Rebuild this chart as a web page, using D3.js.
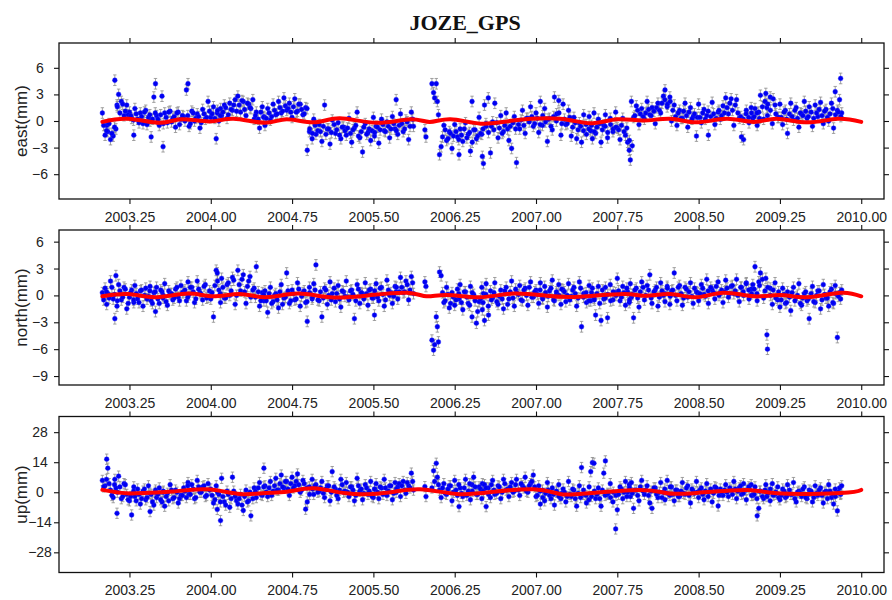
<!DOCTYPE html>
<html><head><meta charset="utf-8">
<script src="https://cdn.jsdelivr.net/npm/d3@7/dist/d3.min.js"></script>
<style>body{margin:0;background:#fff}svg{display:block}</style>
</head><body>
<svg id="c" width="892" height="600"></svg>
<script>
const chartTitle = "JOZE_GPS";
const xTicks = [2003.25, 2004.00, 2004.75, 2005.50, 2006.25, 2007.00, 2007.75, 2008.50, 2009.25, 2010.00];
const eastTicks = [-6, -3, 0, 3, 6];
const northTicks = [-9, -6, -3, 0, 3, 6];
const upTicks = [-28, -14, 0, 14, 28];
const eastSigma = 0.6, northSigma = 0.6, upSigma = 2.4;

// observation set A (epochs in decimal years; east/north/up in mm)
const epochs = [
2003.000,2003.025,2003.040,2003.050,2003.075,2003.100,2003.115,2003.125,2003.135,2003.150,2003.175,2003.200,2003.225,
2003.250,2003.270,2003.290,2003.300,2003.325,2003.350,2003.375,2003.400,2003.425,2003.440,2003.450,2003.475,2003.490,
2003.500,2003.525,2003.550,2003.560,2003.575,2003.600,2003.625,2003.650,2003.675,2003.700,2003.725,
2003.750,2003.775,2003.790,2003.800,2003.825,2003.850,2003.875,2003.900,2003.925,2003.950,2003.975,
2004.000,2004.025,2004.050,2004.060,2004.075,2004.090,2004.100,2004.125,2004.150,2004.175,2004.200,2004.225,
2004.250,2004.275,2004.300,2004.325,2004.350,2004.370,2004.400,2004.420,2004.450,2004.475,2004.490,
2004.500,2004.525,2004.550,2004.575,2004.600,2004.625,2004.650,2004.675,2004.700,2004.725,
2004.750,2004.775,2004.800,2004.825,2004.850,2004.875,2004.890,2004.910,2004.935,2004.950,2004.970,
2005.000,2005.025,2005.050,2005.075,2005.100,2005.120,2005.150,2005.175,2005.200,2005.225,
2005.250,2005.275,2005.300,2005.325,2005.350,2005.375,2005.400,2005.425,2005.450,2005.475,
2005.500,2005.510,2005.525,2005.550,2005.575,2005.600,2005.625,2005.650,2005.675,2005.700,2005.710,2005.725,
2005.750,2005.775,2005.800,2005.825,2005.850,2005.870,2005.975,2005.985,2006.040,2006.055,2006.065,2006.080,2006.090,2006.100,2006.110,
2006.125,2006.150,2006.175,2006.200,2006.225,
2006.250,2006.275,2006.290,2006.300,2006.325,2006.350,2006.375,2006.395,2006.410,2006.425,2006.450,2006.475,
2006.500,2006.505,2006.515,2006.525,2006.540,2006.560,2006.580,2006.600,2006.620,2006.650,2006.675,2006.700,2006.725,
2006.750,2006.775,2006.800,2006.820,2006.850,2006.875,2006.900,2006.925,2006.950,2006.975,
2007.000,2007.025,2007.040,2007.060,2007.080,2007.105,2007.125,2007.150,2007.170,2007.190,2007.210,2007.230,
2007.250,2007.275,2007.300,2007.325,2007.350,2007.375,2007.400,2007.420,2007.440,2007.465,2007.490,
2007.505,2007.520,2007.535,2007.550,2007.575,2007.600,2007.625,2007.640,2007.660,2007.685,2007.710,2007.735,
2007.750,2007.775,2007.800,2007.825,2007.845,2007.860,2007.870,2007.880,2007.900,2007.925,2007.950,2007.975,
2008.000,2008.025,2008.050,2008.070,2008.100,2008.125,2008.150,2008.175,2008.190,2008.210,2008.235,
2008.250,2008.275,2008.300,2008.325,2008.350,2008.375,2008.400,2008.425,2008.450,2008.480,
2008.500,2008.525,2008.550,2008.575,2008.590,2008.625,2008.650,2008.680,2008.700,2008.725,
2008.750,2008.775,2008.800,2008.825,2008.850,2008.875,2008.895,2008.915,2008.940,2008.965,2008.985,
2009.000,2009.020,2009.040,2009.055,2009.070,2009.100,2009.120,2009.130,2009.135,2009.160,2009.180,2009.205,2009.230,
2009.250,2009.275,2009.300,2009.320,2009.350,2009.375,2009.400,2009.425,2009.450,2009.475,
2009.500,2009.520,2009.550,2009.575,2009.600,2009.625,2009.650,2009.675,2009.700,2009.725,2009.745,2009.760,2009.780,2009.800,2009.810,2009.820
];

const east = [
0.9,-1.6,-0.5,-1.2,-2.1,-1.7,4.6,-0.9,1.8,3.0,2.2,0.6,1.8,
1.0,0.3,-1.6,1.4,0.2,0.9,-0.3,1.2,0.4,0.0,-1.8,2.7,4.2,
0.6,-0.5,2.8,-2.9,0.9,-0.2,1.1,0.3,-0.7,1.0,0.2,
0.5,3.5,4.2,-0.6,1.1,0.0,0.8,-0.8,1.3,0.2,2.2,
0.4,1.6,-2.0,0.9,0.0,1.4,0.6,1.8,0.3,2.0,1.2,2.4,
2.8,1.0,2.2,0.6,1.9,1.4,0.2,1.0,-0.8,1.6,0.5,
-0.5,1.4,0.1,1.9,0.7,2.2,0.9,2.6,1.2,2.0,
0.4,2.5,1.1,1.9,0.7,1.5,-3.3,-1.2,-2.0,0.2,-1.5,
-0.4,-2.3,1.8,-0.9,-2.6,0.1,-1.4,-0.2,-2.0,-0.7,
-1.6,0.3,-2.4,-0.8,1.0,-1.9,-3.5,-0.3,-1.3,-2.2,
0.4,-1.7,-0.6,-2.5,0.2,-1.1,-0.1,-1.9,0.5,-0.9,2.4,-1.5,
0.8,-1.2,0.1,-2.1,1.0,-0.6,-1.0,-1.8,4.2,3.2,2.6,4.2,2.2,0.7,-3.8,
-2.9,-0.5,-2.2,-1.2,-3.1,
-0.4,-1.8,-3.8,-0.9,-2.3,-0.2,-1.5,-3.4,2.2,-1.0,-2.0,0.4,
-1.5,-4.0,-4.8,1.8,-0.6,2.6,-3.6,-0.1,2.0,-1.9,0.6,-1.2,0.9,
-2.2,-3.1,0.5,-4.7,-0.9,1.2,-1.4,0.3,1.6,-0.6,
0.9,-1.3,2.2,-0.5,1.4,-2.3,0.3,-1.0,2.7,0.8,2.3,-1.6,
1.9,-0.4,1.2,-1.7,0.4,-2.0,-0.2,-2.4,0.7,-1.5,0.5,
-1.1,-2.0,0.9,-1.4,0.2,-2.4,-0.5,0.7,-1.9,0.3,-1.2,1.0,
-0.8,-2.1,0.3,-1.6,-2.4,-3.3,-4.4,2.2,0.4,1.7,-0.4,1.4,
0.2,2.2,0.7,1.5,-0.3,2.0,0.9,2.8,3.5,1.6,2.7,
0.0,1.8,-0.5,1.2,0.3,2.0,-0.7,1.5,0.5,-1.7,
1.9,-0.2,1.3,0.6,-1.6,2.1,-0.4,1.0,0.2,1.7,
2.6,0.8,2.5,-0.5,2.4,0.3,-1.8,-2.1,1.2,-0.2,1.5,
0.3,1.4,-0.5,1.0,2.9,0.2,3.1,1.5,0.6,2.7,-0.3,1.8,0.4,
1.9,-0.4,1.2,-1.4,2.0,0.1,1.5,-0.7,0.8,2.2,
0.3,1.6,-0.6,1.8,0.5,2.1,-0.3,1.3,0.0,2.0,-0.8,3.3,1.2,2.4,4.8,0.9
];

const north = [
0.3,0.8,-1.0,0.2,1.6,-0.4,-2.6,2.2,-1.2,1.2,-0.5,0.9,-1.5,
-0.2,0.6,-0.8,1.1,-0.4,0.5,-1.2,0.8,-0.1,1.0,-0.6,0.3,-1.8,
0.9,-0.9,0.4,-0.3,1.3,-1.1,0.2,-0.5,0.7,-0.2,1.1,
0.4,-0.6,1.5,0.1,0.9,-0.8,1.6,0.3,-0.5,1.2,-0.2,
-0.4,-2.4,2.8,2.5,0.6,-0.8,1.9,-0.3,1.2,0.0,2.0,-1.0,
2.8,0.5,2.3,-0.9,1.6,-0.2,0.8,3.2,-1.2,0.3,-0.6,
0.5,-1.9,0.9,-0.7,0.2,-1.4,1.2,-0.3,2.5,-0.9,
0.6,-0.5,1.4,-1.2,0.3,-0.8,-2.9,0.9,-0.4,1.3,3.4,
-0.6,-2.4,0.8,-1.0,1.5,0.2,-0.7,1.1,-1.3,0.4,
1.6,-0.5,0.6,-2.6,1.2,-0.9,0.2,1.4,-1.1,0.7,
-0.3,-2.2,1.3,-0.6,0.9,-1.2,1.7,0.0,-0.9,1.0,0.4,-0.4,
2.0,0.3,1.6,-0.5,2.1,0.2,1.5,1.0,-5.0,-6.1,-5.5,-2.4,-3.5,-5.2,2.6,
2.2,-0.8,0.9,-1.4,0.3,
-1.1,0.7,-0.4,1.2,-1.6,0.4,-0.9,1.0,-2.4,0.1,-3.1,-0.7,
0.9,-1.6,0.2,-2.8,1.3,-1.2,0.5,-0.3,1.4,-1.0,0.6,-1.5,0.9,
-0.4,1.6,-1.2,0.3,1.1,-0.6,0.8,-1.1,1.5,-0.2,
0.6,-0.9,1.4,-0.3,1.0,-1.3,0.5,1.7,-0.6,0.2,1.2,-1.0,
0.6,-0.7,1.3,-0.1,0.9,-1.2,1.5,-3.5,0.2,-0.8,1.1,
-0.6,0.8,-0.3,-2.2,1.0,-2.8,-0.4,0.9,-2.5,1.2,-0.5,0.3,
1.9,-0.6,1.0,-1.1,0.4,-0.8,1.3,-0.2,-2.5,0.8,-1.3,1.5,
-0.5,1.1,2.3,-0.9,0.6,-1.2,1.4,0.0,-0.7,1.0,-1.0,
0.5,2.5,-0.6,1.1,-1.1,0.9,-0.2,1.4,-0.9,0.4,
-0.6,1.2,0.1,1.8,-0.9,0.6,-0.4,1.5,0.3,-0.8,
1.7,-0.2,1.0,0.2,1.8,-0.7,0.9,0.0,1.4,-0.4,0.7,
1.2,3.2,-0.6,1.5,2.5,-0.3,1.9,-4.4,-6.0,0.8,-1.0,1.4,-0.5,
-1.3,0.8,-0.9,0.4,-1.7,0.9,-0.2,1.3,-1.1,0.2,
-0.6,-2.6,1.0,-0.8,0.5,-1.5,1.2,-0.3,-1.2,0.7,-0.9,1.1,-4.7,0.3,-0.4,0.6
];

const up = [
5.5,3.0,15.4,11.2,1.0,-2.5,6.0,2.0,-9.8,7.5,-3.0,4.0,-1.0,
-4.0,-10.6,2.5,-2.0,1.5,-5.5,0.5,-3.5,3.0,-9.0,-1.0,-6.0,1.0,
-2.5,2.0,-4.5,0.0,-6.5,-0.5,3.5,-3.0,1.0,-5.0,-1.5,
2.0,-2.5,4.5,-1.0,3.5,-3.0,5.5,0.0,2.5,-2.0,4.0,
1.5,-5.0,3.0,-8.0,-1.0,-13.2,6.5,-4.5,0.5,-7.0,7.0,-2.0,
-5.5,-1.0,-8.5,1.0,-4.0,-11.0,2.0,-2.5,4.5,-1.5,11.2,
3.0,-2.0,5.0,0.5,6.5,1.0,8.0,2.0,5.0,-1.5,
7.0,3.0,8.5,0.0,5.5,-7.9,-4.5,2.5,6.0,-1.0,3.5,
0.5,5.0,-2.5,3.0,-4.0,9.6,1.5,-3.0,6.0,0.0,
4.5,-2.0,2.5,-4.0,6.5,0.5,-3.5,3.5,-1.0,5.0,
-2.5,1.5,4.0,-3.0,2.0,6.0,-1.5,3.0,-3.5,4.5,0.0,2.5,
-2.0,5.0,-0.5,3.0,8.9,1.0,2.6,-2.0,2.0,10.0,5.0,13.5,7.0,3.5,1.0,
-2.5,4.0,-1.0,3.0,-4.0,
5.5,-1.5,-6.7,2.0,-2.0,6.0,0.5,-3.5,3.5,7.0,-1.0,2.5,
-3.0,4.0,0.0,3.5,-6.7,2.0,-2.5,5.5,-1.0,3.0,-3.0,6.0,1.0,
-2.0,4.5,0.5,6.0,-1.5,3.0,7.0,0.0,4.0,8.0,
-2.0,3.0,-5.5,1.0,-4.0,4.5,-1.5,2.0,-6.0,0.0,3.5,-3.0,
1.5,-4.5,5.0,-2.0,1.0,-6.5,3.0,11.5,-1.0,-5.0,2.5,
9.6,13.8,13.5,-3.0,2.0,-6.5,8.9,14.6,-1.0,4.0,-4.5,-17.1,
-8.2,2.5,-3.0,5.0,0.0,3.5,-2.0,4.5,-7.5,1.0,-4.0,5.5,
-1.0,3.0,-5.0,-7.5,2.0,-2.5,4.5,0.0,-3.5,5.5,-1.5,
2.5,-4.0,1.0,-2.0,4.5,-1.0,3.0,-5.0,0.5,5.0,
-2.5,2.0,-3.5,4.0,0.0,-4.5,2.5,-6.4,1.5,-1.5,
3.5,-2.0,1.0,5.0,-3.0,2.0,-1.0,4.0,-3.5,1.5,3.5,
-1.5,2.5,-11.0,-7.5,0.5,-3.0,3.5,-2.0,0.0,-4.0,4.0,-1.0,2.5,
-3.5,1.5,-2.5,3.5,-1.0,4.5,-4.5,0.5,-2.0,2.5,
-3.0,1.0,-4.5,3.0,-1.5,2.0,-5.0,0.5,3.5,-2.5,-5.5,1.5,-8.7,2.0,-1.0,3.0
];

// observation set B (epochs between those of set A)
const epochsB = [
2003.012,2003.038,2003.062,2003.088,2003.112,2003.138,2003.162,2003.188,2003.212,2003.238,
2003.262,2003.288,2003.312,2003.338,2003.362,2003.388,2003.412,2003.438,2003.462,2003.488,
2003.512,2003.538,2003.562,2003.588,2003.612,2003.638,2003.662,2003.688,2003.712,2003.738,
2003.762,2003.788,2003.812,2003.838,2003.862,2003.888,2003.912,2003.938,2003.962,2003.988,
2004.012,2004.038,2004.062,2004.088,2004.112,2004.138,2004.162,2004.188,2004.212,2004.238,
2004.262,2004.288,2004.312,2004.338,2004.362,2004.388,2004.412,2004.438,2004.462,2004.488,
2004.512,2004.538,2004.562,2004.588,2004.612,2004.638,2004.662,2004.688,2004.712,2004.738,
2004.762,2004.788,2004.812,2004.838,2004.862,2004.888,2004.912,2004.938,2004.962,2004.988,
2005.012,2005.038,2005.062,2005.088,2005.112,2005.138,2005.162,2005.188,2005.212,2005.238,
2005.262,2005.288,2005.312,2005.338,2005.362,2005.388,2005.412,2005.438,2005.462,2005.488,
2005.512,2005.538,2005.562,2005.588,2005.612,2005.638,2005.662,2005.688,2005.712,2005.738,
2005.762,2005.788,2005.812,2005.838,2005.862,
2006.138,2006.162,2006.188,2006.212,2006.238,
2006.262,2006.288,2006.312,2006.338,2006.362,2006.388,2006.412,2006.438,2006.462,2006.488,
2006.512,2006.538,2006.562,2006.588,2006.612,2006.638,2006.662,2006.688,2006.712,2006.738,
2006.762,2006.788,2006.812,2006.838,2006.862,2006.888,2006.912,2006.938,2006.962,2006.988,
2007.012,2007.038,2007.062,2007.088,2007.112,2007.138,2007.162,2007.188,2007.212,2007.238,
2007.262,2007.288,2007.312,2007.338,2007.362,2007.388,2007.412,2007.438,2007.462,2007.488,
2007.512,2007.538,2007.562,2007.588,2007.612,2007.638,2007.662,2007.688,2007.712,2007.738,
2007.762,2007.788,2007.812,2007.838,2007.862,2007.888,2007.912,2007.938,2007.962,2007.988,
2008.012,2008.038,2008.062,2008.088,2008.112,2008.138,2008.162,2008.188,2008.212,2008.238,
2008.262,2008.288,2008.312,2008.338,2008.362,2008.388,2008.412,2008.438,2008.462,2008.488,
2008.512,2008.538,2008.562,2008.588,2008.612,2008.638,2008.662,2008.688,2008.712,2008.738,
2008.762,2008.788,2008.812,2008.838,2008.862,2008.888,2008.912,2008.938,2008.962,2008.988,
2009.012,2009.038,2009.062,2009.088,2009.112,2009.138,2009.162,2009.188,2009.212,2009.238,
2009.262,2009.288,2009.312,2009.338,2009.362,2009.388,2009.412,2009.438,2009.462,2009.488,
2009.512,2009.538,2009.562,2009.588,2009.612,2009.638,2009.662,2009.688,2009.712,2009.738,2009.762,2009.788,2009.812
];
const eastB = [
-0.5,-1.1,-0.3,-1.4,-0.7,1.6,0.9,1.9,1.1,0.7,
0.6,0.1,0.8,-0.2,0.5,1.0,-0.4,0.7,0.2,0.9,
0.2,0.7,-0.3,0.4,1.0,-0.1,0.5,0.9,-0.4,0.6,
0.0,0.6,-0.3,0.9,0.3,0.5,-0.2,0.8,0.4,1.1,
0.8,0.3,1.2,0.6,1.0,1.5,0.7,1.3,1.8,1.1,
1.8,2.3,1.3,2.0,1.5,2.4,0.6,0.2,1.0,0.4,
0.3,0.9,0.5,1.2,0.8,1.5,1.1,1.7,1.4,1.0,
1.6,1.0,1.9,1.3,0.8,1.4,-0.9,-1.4,-0.5,-1.1,
-1.2,-0.6,-1.5,-0.9,-1.3,-0.4,-1.0,-1.6,-0.7,-1.1,
-0.8,-1.4,-1.0,-0.5,-1.7,-1.2,-0.7,-1.5,-0.9,-1.1,
-1.3,-0.7,-1.0,-0.4,-1.2,-0.6,-0.9,-0.3,-1.1,-0.5,
-0.3,-0.9,-0.1,-0.6,0.2,
-1.8,-1.0,-2.0,-1.4,-1.7,
-1.2,-2.1,-1.6,-0.9,-1.9,-1.3,-2.4,-1.0,-1.7,-1.4,
-0.9,-0.3,-1.3,-0.6,-1.0,-0.2,-0.8,-1.4,-0.5,-0.9,
-0.6,-0.2,-0.9,-0.4,0.1,-0.5,0.3,-0.1,0.5,-0.3,
0.3,-0.4,0.6,-0.1,0.2,-0.6,0.5,0.0,0.9,-0.3,
0.2,-0.3,0.4,-0.7,-0.2,-1.0,-0.6,-1.1,-0.4,-0.9,
-0.5,-1.2,-0.7,-0.3,-1.0,-0.6,-1.3,-0.4,-0.9,-0.7,
-1.0,-0.5,-1.2,-0.8,-2.2,-2.8,0.6,1.2,0.8,0.5,
0.9,1.3,0.6,1.1,1.5,1.2,2.0,2.4,1.9,2.2,
1.2,0.5,0.9,0.3,1.1,0.6,1.0,0.2,0.8,0.4,
0.4,0.9,0.2,1.1,0.5,0.8,0.3,1.2,0.6,0.9,
1.5,2.0,1.2,1.8,0.9,0.5,0.2,0.8,0.4,0.9,
0.5,0.9,0.3,1.6,2.2,1.9,1.2,2.5,0.8,0.4,
0.4,1.0,0.2,0.8,0.5,1.2,0.3,0.9,0.6,1.1,
0.5,1.0,0.3,0.9,1.3,0.6,1.1,0.4,0.8,1.4,0.7,1.0,0.5
];
const northB = [
-0.5,0.4,-0.3,0.9,0.1,-0.6,0.5,-0.2,0.7,-0.9,
0.3,-0.5,0.2,-0.8,0.6,0.0,-0.4,0.5,-0.9,0.4,
-0.4,0.6,0.0,-0.7,0.5,0.2,-0.3,0.9,-0.6,0.3,
0.6,-0.2,0.9,0.4,-0.4,0.7,0.1,1.0,-0.3,0.5,
0.3,1.1,1.6,0.2,0.9,-0.3,1.4,0.5,1.7,0.0,
1.2,1.8,0.4,1.0,2.1,0.6,-0.2,0.4,-0.6,0.1,
-0.6,0.2,-0.9,0.0,-0.5,0.4,-1.0,-0.2,0.5,-0.6,
0.2,-0.4,0.7,-0.1,0.5,-0.7,0.3,-0.2,0.6,-0.5,
0.4,-0.3,0.6,0.0,-0.5,0.8,0.2,-0.4,0.5,-0.1,
-0.2,0.5,0.1,-0.6,0.7,0.3,-0.4,0.2,0.6,-0.3,
0.5,-0.2,0.8,0.1,-0.5,0.6,0.3,-0.1,0.9,0.4,
0.9,0.4,1.2,0.6,1.4,
0.3,-0.6,0.1,-0.9,-0.2,
-0.5,0.2,-0.8,0.4,-0.2,-1.1,0.3,-0.6,-1.8,-0.4,
-0.8,0.1,-2.2,-0.5,0.3,-0.7,-0.1,-0.4,0.5,-1.0,
0.4,-0.3,0.7,0.1,-0.5,0.6,0.0,0.9,-0.2,0.4,
0.1,0.6,-0.4,0.3,-0.1,0.8,-0.5,0.4,0.0,0.7,
0.4,0.0,-0.5,0.6,0.2,-0.3,0.8,-0.2,0.3,-0.6,
0.3,-0.5,0.2,-0.9,0.6,-0.3,0.1,-0.6,0.4,0.0,
0.5,-0.2,0.3,0.8,-0.5,0.1,0.6,-0.3,0.4,0.9,
0.0,0.6,-0.3,0.4,0.9,-0.2,0.5,0.2,0.8,-0.1,
0.6,0.0,0.9,0.2,-0.3,0.7,0.4,-0.1,0.8,0.3,
0.2,0.8,-0.1,0.5,0.9,0.3,1.0,0.0,0.6,0.4,
0.8,0.2,1.1,0.5,0.0,0.9,0.4,1.3,0.6,0.2,
0.7,0.2,1.1,1.8,0.5,0.9,0.0,0.6,-0.3,0.4,
-0.5,0.1,-0.8,-0.2,0.3,-0.6,0.0,-0.9,-0.3,0.4,
-0.4,0.2,-0.7,0.0,0.5,-0.5,0.1,-0.3,0.4,-0.8,0.2,-0.1,0.3
];
const upB = [
2.5,6.0,4.0,-1.5,3.5,0.0,2.5,-2.0,3.5,-3.5,
-2.0,0.5,-4.0,-1.0,-3.0,1.5,-2.5,-0.5,-4.5,0.0,
-1.0,-3.5,0.5,-2.0,-4.0,1.0,-2.5,0.0,-3.0,-1.5,
0.5,3.0,-1.0,1.5,-2.5,2.5,0.0,3.0,-1.5,1.0,
-1.5,-3.5,0.0,-4.5,-2.0,-6.0,-1.0,-3.0,0.5,-4.0,
-3.0,-6.0,-2.0,-4.5,0.0,-3.0,0.5,2.0,-1.0,2.5,
0.0,2.0,-1.5,3.0,1.0,4.0,2.5,5.0,1.5,4.0,
2.0,5.0,3.5,1.0,4.0,2.0,-1.0,1.5,3.0,0.0,
2.0,-0.5,1.5,3.0,0.0,2.5,-1.5,1.0,3.5,0.5,
0.0,2.5,1.0,-1.5,3.0,1.5,-0.5,2.0,0.5,-2.0,
1.5,0.0,2.5,-1.0,2.0,0.5,3.0,-0.5,1.5,4.0,
3.0,1.0,4.5,2.0,5.0,
2.0,-0.5,1.5,3.0,0.0,
1.0,3.5,-0.5,2.0,-1.5,4.0,0.5,2.5,-1.0,1.5,
0.5,2.0,-1.0,3.5,1.0,-0.5,2.5,0.0,4.0,1.5,
2.5,0.0,3.5,1.0,4.0,2.0,0.5,3.0,5.0,2.5,
-1.5,0.5,-2.5,-0.5,1.0,-3.0,-1.0,0.5,-2.0,-0.5,
0.0,-2.0,-1.0,1.5,-3.0,-0.5,-2.5,1.0,-1.5,-3.5,
-2.0,0.5,-1.0,-3.0,1.0,-1.5,-0.5,-2.5,0.0,-1.5,
-1.0,1.5,0.0,-2.0,2.0,-0.5,1.0,-1.5,2.5,0.5,
1.0,-1.5,0.5,2.0,-1.0,0.0,-2.5,1.5,-0.5,2.5,
-1.0,1.0,-2.0,0.5,-0.5,2.0,-1.5,1.5,-0.5,0.0,
1.0,-1.0,0.5,-2.0,1.5,-0.5,2.0,-1.5,0.0,1.0,
0.0,2.0,-1.0,1.5,0.5,3.0,-0.5,1.0,2.5,-1.5,
-1.0,-3.0,0.5,-2.0,1.0,-0.5,1.5,-1.5,0.0,-2.5,
-1.5,0.5,-2.0,1.0,-1.0,-3.0,0.0,-0.5,1.5,-2.5,
-1.0,0.5,-2.5,-0.5,1.0,-1.5,0.0,-3.0,0.5,-1.0,-2.0,0.0,-0.5
];

// fitted seasonal model curves (red)
const eastFitT = [2003.00,2003.24,2003.53,2003.73,2003.99,2004.21,2004.50,2004.70,2004.95,2005.19,2005.53,2005.84,2006.02,2006.21,2006.49,2006.79,2007.22,2007.50,2007.75,2007.99,2008.24,2008.48,2008.76,2009.01,2009.22,2009.50,2009.78,2010.00];
const eastFit  = [-0.1,0.25,-0.2,0.2,-0.05,0.25,-0.2,0.2,-0.15,0.3,-0.2,0.2,-0.1,0.2,-0.3,0.05,0.25,-0.25,0.2,0.05,0.25,-0.15,0.25,-0.1,0.25,-0.15,0.25,-0.1];
const northFitT = [2003.00,2003.24,2003.50,2003.79,2004.02,2004.27,2004.51,2004.80,2005.10,2005.45,2005.81,2005.99,2006.18,2006.48,2006.79,2007.10,2007.40,2007.81,2008.02,2008.24,2008.48,2008.73,2009.01,2009.25,2009.50,2009.81,2010.00];
const northFit  = [-0.1,0.15,-0.2,0.2,-0.1,0.15,-0.2,0.2,-0.2,0.0,0.3,-0.1,0.05,-0.2,0.2,-0.05,-0.15,0.15,-0.05,0.15,-0.2,0.3,-0.1,0.05,-0.2,0.3,-0.1];
const upFitT = [2003.00,2003.22,2003.44,2003.65,2003.96,2004.27,2004.50,2004.70,2004.95,2005.25,2005.62,2005.93,2006.27,2006.61,2006.98,2007.22,2007.45,2007.96,2008.21,2008.48,2008.95,2009.22,2009.81,2010.00];
const upFit  = [1.1,-0.5,-0.2,0.3,1.4,-0.8,-0.3,0.2,1.9,-0.5,-0.2,1.4,-0.8,0.2,1.4,-0.8,-0.6,1.1,-0.5,-0.3,1.1,-0.5,-0.3,1.1];

const allT = epochs.concat(epochsB);
const panels = [
  {label: "east(mm)",  values: east.concat(eastB),   sigma: eastSigma,  ticks: eastTicks,  fitT: eastFitT,  fit: eastFit,  domain: [-8.8, 8.8],   top: 43,    bottom: 199},
  {label: "north(mm)", values: north.concat(northB), sigma: northSigma, ticks: northTicks, fitT: northFitT, fit: northFit, domain: [-10.0, 7.3], top: 230,   bottom: 385},
  {label: "up(mm)",    values: up.concat(upB),       sigma: upSigma,    ticks: upTicks,    fitT: upFitT,    fit: upFit,    domain: [-37.4, 35.3], top: 416.5, bottom: 572.5}
];

const svg = d3.select("#c");
const L = 59, R = 884;
const x = d3.scaleLinear().domain([2002.60, 2010.21]).range([L, R]);
const font = "'Liberation Sans', Arial, Helvetica, sans-serif";

svg.append("text").attr("x", 465).attr("y", 30).attr("text-anchor", "middle")
  .attr("font-family", "'Liberation Serif', 'Times New Roman', serif").attr("font-weight", "bold")
  .attr("font-size", 22).attr("fill", "#111").text(chartTitle);

panels.forEach(p => {
  const y = d3.scaleLinear().domain(p.domain).range([p.bottom, p.top]);
  const g = svg.append("g");
  const idx = d3.range(allT.length);
  const cw = 1.7;
  g.append("g").selectAll("path").data(idx).join("path")
    .attr("d", i => {
      const cx = x(allT[i]), y1 = y(p.values[i] + p.sigma), y2 = y(p.values[i] - p.sigma);
      return `M${cx - cw},${y1}H${cx + cw}M${cx},${y1}V${y2}M${cx - cw},${y2}H${cx + cw}`;
    })
    .attr("stroke", "#8c8c8c").attr("stroke-width", 0.8).attr("fill", "none");
  g.append("g").selectAll("circle").data(idx).join("circle")
    .attr("cx", i => x(allT[i])).attr("cy", i => y(p.values[i])).attr("r", 2.4)
    .attr("fill", "#0000f0").attr("stroke", "#2020ff").attr("stroke-width", 0.4);
  const line = d3.line().x(i => x(p.fitT[i])).y(i => y(p.fit[i])).curve(d3.curveNatural);
  g.append("path").attr("d", line(d3.range(p.fitT.length)))
    .attr("fill", "none").attr("stroke", "#ff0000").attr("stroke-width", 4).attr("stroke-linecap", "round");

  g.append("rect").attr("x", L).attr("y", p.top).attr("width", R - L).attr("height", p.bottom - p.top)
    .attr("fill", "none").attr("stroke", "#111").attr("stroke-width", 1.3);

  const styleAxis = a => {
    a.select(".domain").remove();
    a.selectAll("line").attr("stroke", "#111").attr("stroke-width", 1.1);
    a.selectAll("text").attr("font-family", font).attr("font-size", 14).attr("fill", "#222");
  };
  const fmt2 = d3.format(".2f");
  g.append("g").attr("transform", `translate(0,${p.bottom})`)
    .call(d3.axisBottom(x).tickValues(xTicks).tickSize(5).tickPadding(8).tickFormat(fmt2)).call(styleAxis);
  g.append("g").attr("transform", `translate(0,${p.top})`)
    .call(d3.axisTop(x).tickValues(xTicks).tickSize(5).tickFormat("")).call(styleAxis);
  const ay = g.append("g").attr("transform", `translate(${L},0)`)
    .call(d3.axisLeft(y).tickValues(p.ticks).tickSize(5).tickFormat(d3.format("d"))).call(styleAxis);
  ay.selectAll("text").attr("text-anchor", "middle").attr("x", 40 - L);
  g.append("g").attr("transform", `translate(${R},0)`)
    .call(d3.axisRight(y).tickValues(p.ticks).tickSize(5).tickFormat("")).call(styleAxis);

  svg.append("text").attr("transform", `translate(27,${(p.top + p.bottom) / 2}) rotate(-90)`)
    .attr("text-anchor", "middle").attr("font-family", font).attr("font-size", 17).attr("fill", "#222")
    .text(p.label);
});
</script>
</body></html>
